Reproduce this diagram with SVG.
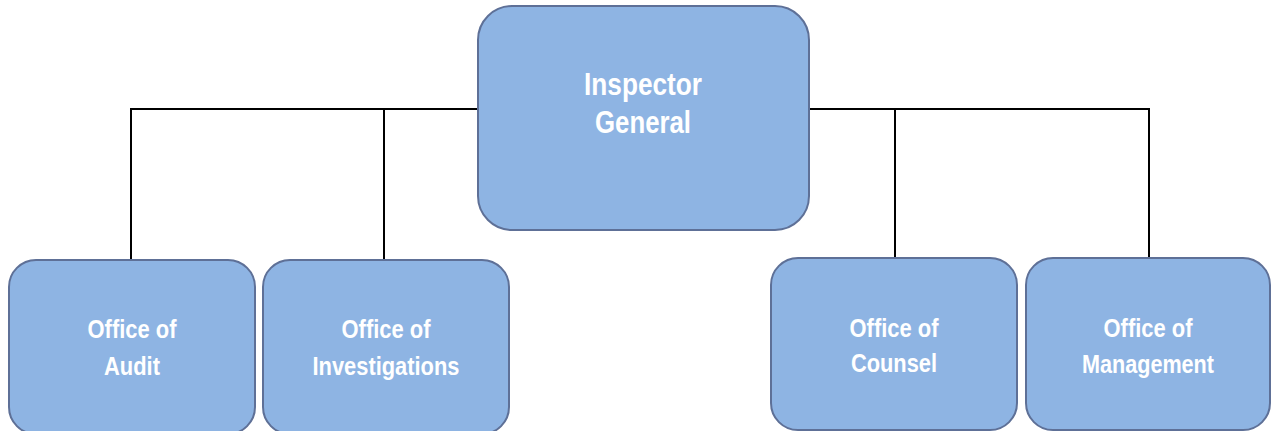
<svg xmlns="http://www.w3.org/2000/svg" width="1271" height="431" viewBox="0 0 1271 431">
<style>
.box{fill:#8EB4E3;stroke:#5E7097;stroke-width:2}
.t{fill:#FFFFFF;font-family:"Liberation Sans",Arial,sans-serif;font-weight:bold;text-anchor:middle}
.big{font-size:32px}
.sm{font-size:26px}
.c{stroke:#000;stroke-width:2;fill:none}
</style>
<rect width="1271" height="431" fill="#FFFFFF"/>
<g id="connectors">
<polyline class="c" points="131,260 131,109 478,109"/>
<line class="c" x1="384" y1="109" x2="384" y2="260"/>
<polyline class="c" points="809,109 1149,109 1149,258"/>
<line class="c" x1="895" y1="109" x2="895" y2="258"/>
</g>
<g id="inspector-general">
<rect class="box" x="478" y="6" width="331" height="224" rx="34" ry="34"/>
<text class="t big" x="643" y="95" textLength="118" lengthAdjust="spacingAndGlyphs">Inspector</text>
<text class="t big" x="643" y="133" textLength="96" lengthAdjust="spacingAndGlyphs">General</text>
</g>
<g id="office-of-audit">
<rect class="box" x="9" y="260" width="246" height="174" rx="27" ry="27"/>
<text class="t sm" x="132" y="338" textLength="89" lengthAdjust="spacingAndGlyphs">Office of</text>
<text class="t sm" x="132" y="375" textLength="56" lengthAdjust="spacingAndGlyphs">Audit</text>
</g>
<g id="office-of-investigations">
<rect class="box" x="263" y="260" width="246" height="174" rx="27" ry="27"/>
<text class="t sm" x="386" y="338" textLength="89" lengthAdjust="spacingAndGlyphs">Office of</text>
<text class="t sm" x="386" y="375" textLength="147" lengthAdjust="spacingAndGlyphs">Investigations</text>
</g>
<g id="office-of-counsel">
<rect class="box" x="771" y="258" width="246" height="172" rx="27" ry="27"/>
<text class="t sm" x="894" y="337" textLength="89" lengthAdjust="spacingAndGlyphs">Office of</text>
<text class="t sm" x="894" y="372" textLength="86" lengthAdjust="spacingAndGlyphs">Counsel</text>
</g>
<g id="office-of-management">
<rect class="box" x="1026" y="258" width="244" height="172" rx="27" ry="27"/>
<text class="t sm" x="1148" y="337" textLength="89" lengthAdjust="spacingAndGlyphs">Office of</text>
<text class="t sm" x="1148" y="373" textLength="132" lengthAdjust="spacingAndGlyphs">Management</text>
</g>
</svg>
